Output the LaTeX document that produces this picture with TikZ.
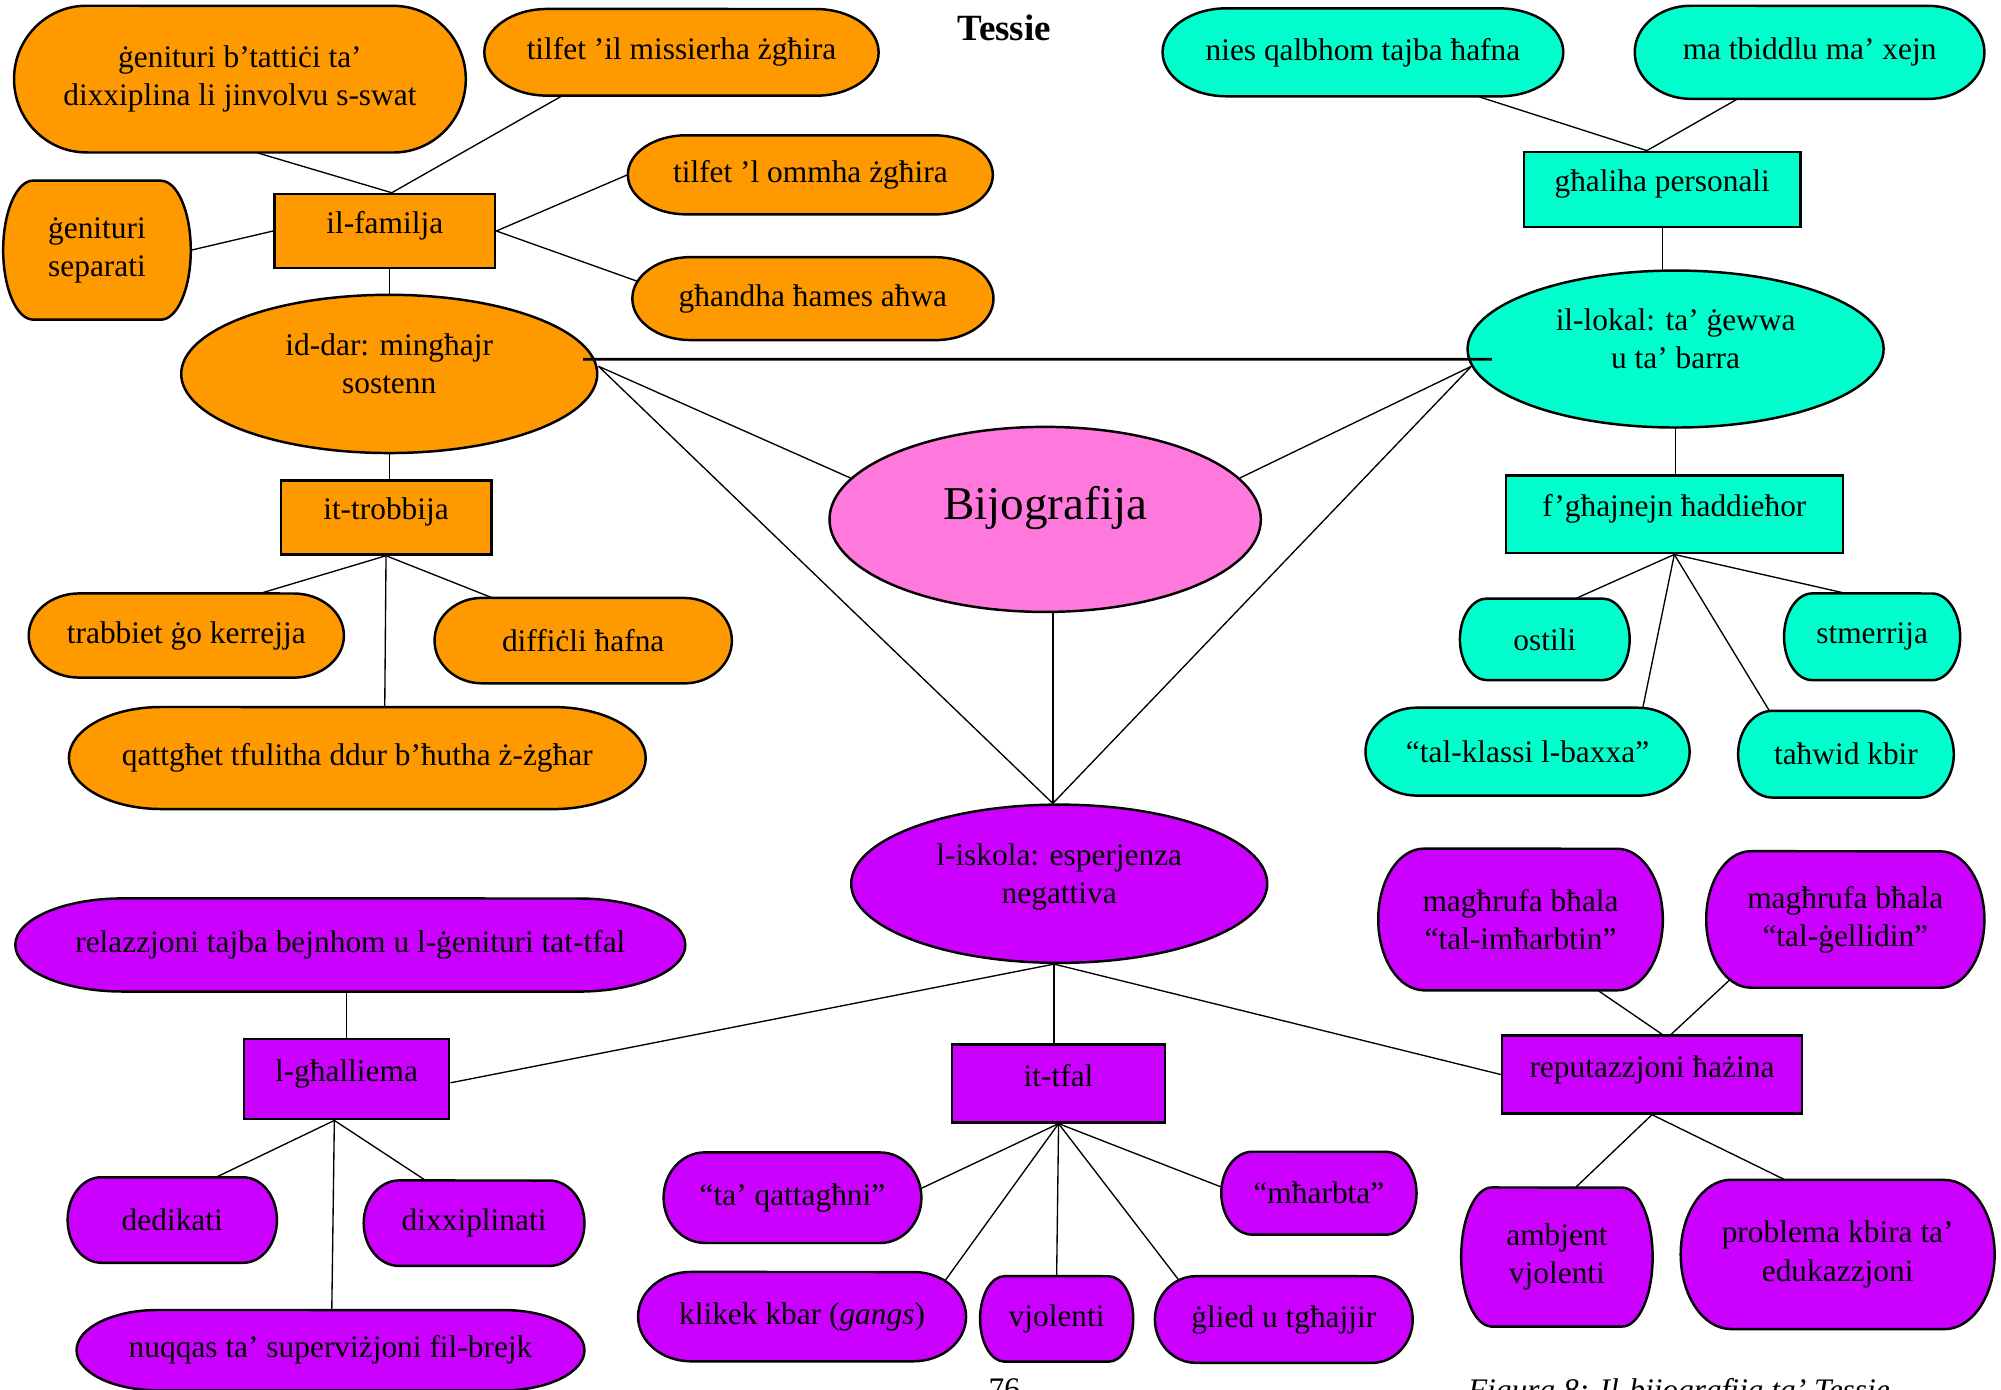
\documentclass[tikz,border=0pt]{standalone}
\usepackage{fontspec}
\setmainfont{Liberation Serif}
\usetikzlibrary{shapes.geometric}

\definecolor{famorange}{HTML}{FF9900}
\definecolor{loktiel}{HTML}{00FFCC}
\definecolor{bijopink}{HTML}{FF78DC}
\definecolor{skolpurple}{HTML}{CC00FF}

\pgfdeclarelayer{background}
\pgfsetlayers{background,main}

\tikzset{
  txt/.style={inner sep=0pt, align=center, font=\fontsize{14}{17}\selectfont},
  sz/.style 2 args={minimum width=#1*0.02cm, minimum height=#2*0.02cm},
  box/.style={txt, rectangle, draw=black, line width=1.1pt, text depth=7.5pt},
  oval/.style={txt, ellipse, draw=black, line width=1.1pt, text depth=9pt},
  link/.style={draw=black, line width=0.6pt},
}

% rounded end box: name, x, y, width, height, colour, text
\newcommand{\termnode}[7]{%
  \filldraw[fill=#6, draw=black, line width=1.1pt]
    ({#2-#4/2+0.16*#4},{#3-#5/2}) -- ({#2+#4/2-0.16*#4},{#3-#5/2})
    arc[start angle=-90, end angle=90, x radius={0.16*#4*0.02cm}, y radius={#5*0.01cm}]
    -- ({#2-#4/2+0.16*#4},{#3+#5/2})
    arc[start angle=90, end angle=270, x radius={0.16*#4*0.02cm}, y radius={#5*0.01cm}]
    -- cycle;
  \node[txt, sz={#4}{#5}] (#1) at (#2,#3) {#7};
}

\begin{document}
\begin{tikzpicture}[x=0.02cm, y=0.02cm]
    \useasboundingbox (0,0) rectangle (1568,-1089);
    \node[font=\fontsize{16.5}{20}\selectfont\bfseries] (title) at (787,-22) {Tessie};

    % il-familja
    \termnode{tattici}{188}{-62}{354}{115}{famorange}{ġenituri b’tattiċi ta’\\dixxiplina li jinvolvu s-swat}
    \termnode{missierha}{534}{-41}{309}{68}{famorange}{tilfet ’il missierha żgħira}
    \termnode{ommha}{635}{-137}{286}{62}{famorange}{tilfet ’l ommha żgħira}
    \termnode{ahwa}{637}{-234}{283}{65}{famorange}{għandha ħames aħwa}
    \termnode{separati}{76}{-196}{147}{109}{famorange}{ġenituri\\separati}
    \node[box, fill=famorange, sz={173}{58}] (familja) at (301.5,-181) {il-familja};
    \node[oval, fill=famorange, sz={326}{124}] (dar) at (305,-293) {id-dar: mingħajr\\sostenn};
    \node[box, fill=famorange, sz={165}{58}] (trobbija) at (302.5,-405.5) {it-trobbija};
    \termnode{kerrejja}{146}{-498}{247}{66}{famorange}{trabbiet ġo kerrejja}
    \termnode{difficli}{457}{-502}{233}{67}{famorange}{diffiċli ħafna}
    \termnode{qattghet}{280}{-594}{452}{80}{famorange}{qattgħet tfulitha ddur b’ħutha ż-żgħar}

    % il-lokal
    \termnode{qalbhom}{1068}{-41}{314}{69}{loktiel}{nies qalbhom tajba ħafna}
    \termnode{xejn}{1418}{-41}{274}{73}{loktiel}{ma tbiddlu ma’ xejn}
    \node[box, fill=loktiel, sz={217}{59}] (personali) at (1302.5,-148.5) {għaliha personali};
    \node[oval, fill=loktiel, sz={326}{123}] (lokal) at (1313,-273.5) {il-lokal: ta’ ġewwa\\u ta’ barra};
    \node[box, fill=loktiel, sz={264}{61}] (haddiehor) at (1312,-403) {f’għajnejn ħaddieħor};
    \termnode{ostili}{1210.5}{-501}{133}{64}{loktiel}{ostili}
    \termnode{stmerrija}{1467}{-499}{138}{68}{loktiel}{stmerrija}
    \termnode{baxxa}{1197}{-589}{254}{69}{loktiel}{“tal-klassi l-baxxa”}
    \termnode{tahwid}{1446.5}{-591}{169}{68}{loktiel}{taħwid kbir}

    \node[oval, fill=bijopink, sz={338}{145}, text depth=14.5pt, font=\fontsize{21}{25}\selectfont] (bijo) at (819,-407) {Bijografija};

    % l-iskola
    \node[oval, fill=skolpurple, sz={326}{124}] (skola) at (830,-692.5) {l-iskola: esperjenza\\negattiva};
    \termnode{relazzjoni}{274.5}{-740.5}{525}{73}{skolpurple}{relazzjoni tajba bejnhom u l-ġenituri tat-tfal}
    \termnode{imharbtin}{1191.5}{-720.5}{223}{111}{skolpurple}{magħrufa bħala\\“tal-imħarbtin”}
    \termnode{gellidin}{1446}{-720.5}{218}{107}{skolpurple}{magħrufa bħala\\“tal-ġellidin”}
    \node[box, fill=skolpurple, sz={161}{63}] (ghalliema) at (271.5,-845.5) {l-għalliema};
    \node[box, fill=skolpurple, sz={167}{61}] (tfal) at (829.5,-849) {it-tfal};
    \node[box, fill=skolpurple, sz={235}{61}] (reputazzjoni) at (1294.5,-842) {reputazzjoni ħażina};
    \termnode{dedikati}{135}{-956}{164}{67}{skolpurple}{dedikati}
    \termnode{dixxiplinati}{371.5}{-958.5}{173}{67}{skolpurple}{dixxiplinati}
    \termnode{nuqqas}{259}{-1058}{398}{63}{skolpurple}{nuqqas ta’ superviżjoni fil-brejk}
    \termnode{qattaghni}{621}{-938.5}{202}{71}{skolpurple}{“ta’ qattagħni”}
    \termnode{mharbta}{1033.5}{-935}{153}{65}{skolpurple}{“mħarbta”}
    \termnode{klikek}{628.5}{-1031.7}{257}{70}{skolpurple}{klikek kbar (\textit{gangs})}
    \termnode{vjolenti}{828}{-1033.5}{120}{67}{skolpurple}{vjolenti}
    \termnode{glied}{1006}{-1034}{202}{68}{skolpurple}{ġlied u tgħajjir}
    \termnode{ambjent}{1220}{-985}{150}{109}{skolpurple}{ambjent\\vjolenti}
    \termnode{problema}{1440}{-983}{246}{117}{skolpurple}{problema kbira ta’\\edukazzjoni}

    % page foot, cut by the frame
    \node[txt, anchor=north] (page) at (787,-1080) {76};
    \node[txt, anchor=north west, font=\fontsize{14}{17}\selectfont\itshape] (caption) at (1150,-1080) {Figura 8: Il-bijografija ta’ Tessie};

    \draw[line width=1.3pt] ([shift={(-12,11.5)}]dar.east) -- ([shift={(20,-8)}]lokal.west);

    \begin{pgfonlayer}{background}
    % family side
    \draw[link] ([shift={(5.5,0)}]familja.north) -- ([shift={(14,0)}]tattici.south);
    \draw[link] ([shift={(5.5,0)}]familja.north) -- ([shift={(-94,0)}]missierha.south);
    \draw[link] (separati.east) -- (familja.west);
    \draw[link] (familja.east) -- (ommha.west);
    \draw[link] (familja.east) -- ([shift={(6,13)}]ahwa.west);
    \draw[link] (dar.north) -- (dar.north |- familja.south);
    \draw[link] (dar.south) -- (dar.south |- trobbija.north);
    \draw[link] (trobbija.south) -- ([shift={(59,0)}]kerrejja.north);
    \draw[link] (trobbija.south) -- ([shift={(-72,0)}]difficli.north);
    \draw[link] (trobbija.south) -- ([shift={(21.5,0)}]qattghet.north);
    % centre
    \draw[link] ([shift={(0,6)}]dar.east) -- (bijo.168);
    \draw[link] ([shift={(0,6)}]dar.east) -- ([shift={(-5,0)}]skola.north);
    \draw[link] ([shift={(4,-13.5)}]lokal.west) -- (bijo.12);
    \draw[link] ([shift={(4,-13.5)}]lokal.west) -- ([shift={(-5,0)}]skola.north);
    \draw[link] ([shift={(6,0)}]bijo.south) -- ([shift={(-5,0)}]skola.north);
    % local side
    \draw[link] ([shift={(91,0)}]qalbhom.south) -- ([shift={(-12,0)}]personali.north);
    \draw[link] ([shift={(-57,0)}]xejn.south) -- ([shift={(-12,0)}]personali.north);
    \draw[link] (personali.south) -- (personali.south |- lokal.north);
    \draw[link] (lokal.south) -- (lokal.south |- haddiehor.north);
    \draw[link] (haddiehor.south) -- ([shift={(25,0)}]ostili.north);
    \draw[link] (haddiehor.south) -- ([shift={(-22,0)}]stmerrija.north);
    \draw[link] (haddiehor.south) -- ([shift={(90,-2)}]baxxa.north);
    \draw[link] (haddiehor.south) -- ([shift={(-59,-2)}]tahwid.north);
    % school side
    \draw[link] (ghalliema.north) -- (ghalliema.north |- relazzjoni.south);
    \draw[link] ([shift={(-4,0)}]skola.south) -- ([shift={(0,-3)}]ghalliema.east);
    \draw[link] ([shift={(-4,0)}]skola.south) -- ([shift={(-3.5,0)}]tfal.north);
    \draw[link] ([shift={(-4,0)}]skola.south) -- (reputazzjoni.west);
    \draw[link] ([shift={(61,0)}]imharbtin.south) -- ([shift={(8,0)}]reputazzjoni.north);
    \draw[link] ([shift={(-89,8)}]gellidin.south) -- ([shift={(15,0)}]reputazzjoni.north);
    \draw[link] ([shift={(-9.5,0)}]ghalliema.south) -- ([shift={(35,0)}]dedikati.north);
    \draw[link] ([shift={(-9.5,0)}]ghalliema.south) -- ([shift={(-38.5,0)}]dixxiplinati.north);
    \draw[link] ([shift={(-9.5,0)}]ghalliema.south) -- ([shift={(1,0)}]nuqqas.north);
    \draw[link] (tfal.south) -- ([shift={(0,7.5)}]qattaghni.east);
    \draw[link] (tfal.south) -- ([shift={(0,5)}]mharbta.west);
    \draw[link] (tfal.south) -- ([shift={(109.5,-10.7)}]klikek.north);
    \draw[link] (tfal.south) -- (vjolenti.north);
    \draw[link] (tfal.south) -- ([shift={(-78,-9)}]glied.north);
    \draw[link] (reputazzjoni.south) -- ([shift={(15,0)}]ambjent.north);
    \draw[link] (reputazzjoni.south) -- ([shift={(-42,0)}]problema.north);
    \end{pgfonlayer}
\end{tikzpicture}
\end{document}
